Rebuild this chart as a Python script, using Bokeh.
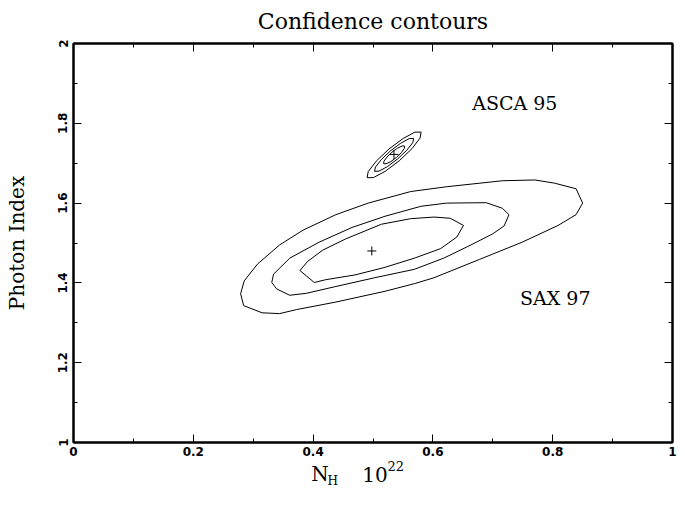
from bokeh.plotting import figure
from bokeh.models import Range1d, LinearAxis, FixedTicker, Label, CustomLabelingPolicy
from bokeh.layouts import column
from bokeh.core.properties import value
from bokeh.embed import file_html
from bokeh.resources import INLINE

# ---- data ----
x_ticks = [0, 0.2, 0.4, 0.6, 0.8, 1.0]
x_tick_labels = ["0", "0.2", "0.4", "0.6", "0.8", "1"]
x_minor = [0.1, 0.3, 0.5, 0.7, 0.9]
y_ticks = [1, 1.2, 1.4, 1.6, 1.8, 2]
y_tick_labels = ["1", "1.2", "1.4", "1.6", "1.8", "2"]
y_minor = [1.1, 1.3, 1.5, 1.7, 1.9]

# SAX 97 contours (N_H, Photon index)
sax_outer_x = [0.279, 0.285, 0.307, 0.344, 0.383, 0.438, 0.492, 0.563, 0.623, 0.716, 0.770,
               0.803, 0.839, 0.850, 0.839, 0.809, 0.749, 0.678, 0.602, 0.569, 0.520, 0.438,
               0.372, 0.344, 0.315, 0.284]
sax_outer_y = [1.373, 1.405, 1.447, 1.495, 1.532, 1.571, 1.600, 1.629, 1.641, 1.656, 1.658,
               1.650, 1.636, 1.600, 1.571, 1.544, 1.502, 1.459, 1.413, 1.398, 1.379, 1.352,
               1.333, 1.323, 1.325, 1.343]
sax_mid_x = [0.334, 0.361, 0.410, 0.465, 0.520, 0.580, 0.623, 0.689, 0.716, 0.727, 0.719,
             0.700, 0.662, 0.618, 0.569, 0.503, 0.438, 0.389, 0.361, 0.339, 0.331]
sax_mid_y = [1.422, 1.462, 1.502, 1.539, 1.567, 1.592, 1.600, 1.601, 1.587, 1.571, 1.543,
             1.523, 1.494, 1.462, 1.434, 1.413, 1.391, 1.374, 1.369, 1.385, 1.401]
sax_inner_x = [0.378, 0.391, 0.416, 0.454, 0.514, 0.563, 0.602, 0.629, 0.651, 0.640, 0.613,
               0.569, 0.520, 0.470, 0.421, 0.402]
sax_inner_y = [1.431, 1.454, 1.482, 1.510, 1.547, 1.561, 1.565, 1.562, 1.544, 1.515, 1.486,
               1.462, 1.439, 1.420, 1.408, 1.401]
sax_best = (0.498, 1.480)

# ASCA 95 contours
asca_outer_x = [0.5803, 0.5785, 0.5652, 0.5438, 0.5202, 0.5005, 0.4902, 0.4920, 0.5054, 0.5267, 0.5505, 0.5700]
asca_outer_y = [1.7779, 1.7629, 1.7367, 1.7061, 1.6794, 1.6638, 1.6638, 1.6789, 1.7051, 1.7357, 1.7621, 1.7779]
asca_mid_x = [0.5679, 0.5664, 0.5566, 0.5411, 0.5241, 0.5100, 0.5026, 0.5041, 0.5139, 0.5293, 0.5464, 0.5605]
asca_mid_y = [1.7621, 1.7515, 1.7328, 1.7107, 1.6915, 1.6801, 1.6796, 1.6903, 1.7090, 1.7311, 1.7502, 1.7617]
asca_inner_x = [0.5528, 0.5523, 0.5474, 0.5390, 0.5298, 0.5218, 0.5177, 0.5182, 0.5233, 0.5315, 0.5408, 0.5487]
asca_inner_y = [1.7430, 1.7369, 1.7265, 1.7143, 1.7041, 1.6985, 1.6988, 1.7048, 1.7153, 1.7274, 1.7376, 1.7432]
asca_best = (0.535, 1.722)

SERIF = "DejaVu Serif"
W = 677
LEFT = 73
RIGHT = 2

# ---- main figure ----
x_range = Range1d(0, 1)
p = figure(width=W, height=460, x_range=x_range, y_range=Range1d(1, 2),
           output_backend="svg", toolbar_location=None,
           x_axis_location=None, y_axis_location=None,
           min_border_left=LEFT, min_border_right=RIGHT, min_border_top=40, min_border_bottom=18)
p.grid.visible = False
p.background_fill_color = "white"
p.border_fill_color = "white"
p.outline_line_color = "black"
p.outline_line_width = 2

p.title.text = "Confidence contours"
p.title.align = "center"
p.title.text_font = SERIF
p.title.text_font_size = "22px"
p.title.text_font_style = "normal"
p.title.text_color = "black"
p.title.standoff = 12


def make_axis(ticks, minor, labels, show_labels):
    ax = LinearAxis(ticker=FixedTicker(ticks=ticks, minor_ticks=minor))
    ax.major_label_overrides = {t: l for t, l in zip(ticks, labels)}
    ax.major_tick_in = 8
    ax.major_tick_out = 0
    ax.minor_tick_in = 4
    ax.minor_tick_out = 0
    ax.axis_line_width = 2
    ax.axis_line_color = "black"
    ax.major_tick_line_color = "black"
    ax.minor_tick_line_color = "black"
    ax.major_tick_line_width = 1
    ax.minor_tick_line_width = 1
    ax.major_label_text_font = "DejaVu Sans"
    ax.major_label_text_font_style = "bold"
    ax.major_label_text_font_size = "12px"
    ax.major_label_text_color = "black"
    if not show_labels:
        ax.major_label_standoff = 0
        ax.major_label_text_font_size = "1px"
        ax.major_label_policy = CustomLabelingPolicy(code="return new Set()")
    return ax


bottom = make_axis(x_ticks, x_minor, x_tick_labels, True)
bottom.major_label_standoff = 4
p.add_layout(bottom, "below")

left = make_axis(y_ticks, y_minor, y_tick_labels, True)
left.major_label_orientation = "vertical"
left.major_label_standoff = 6
left.axis_label = "Photon Index"
left.axis_label_text_font = SERIF
left.axis_label_text_font_size = "20px"
left.axis_label_text_font_style = "normal"
left.axis_label_text_color = "black"
left.axis_label_standoff = 27
p.add_layout(left, "left")

p.add_layout(make_axis(x_ticks, x_minor, x_tick_labels, False), "above")
p.add_layout(make_axis(y_ticks, y_minor, y_tick_labels, False), "right")

# contours
for xs, ys in [(sax_outer_x, sax_outer_y), (sax_mid_x, sax_mid_y), (sax_inner_x, sax_inner_y),
               (asca_outer_x, asca_outer_y), (asca_mid_x, asca_mid_y), (asca_inner_x, asca_inner_y)]:
    p.line(xs + xs[:1], ys + ys[:1], line_color="black", line_width=1)

p.scatter([sax_best[0], asca_best[0]], [sax_best[1], asca_best[1]], marker="cross",
          size=9, line_color="black", line_width=1)

# annotations
p.add_layout(Label(x=0.6656, y=1.852, text="ASCA 95", text_font=SERIF, text_font_size="19px",
                   text_align="left", text_baseline="middle", text_color="black"))
p.add_layout(Label(x=0.7454, y=1.3617, text="SAX 97", text_font=SERIF, text_font_size="19px",
                   text_align="left", text_baseline="middle", text_color="black"))

# ---- strip below holding the x-axis label  N_H 10^22 ----
s = figure(width=W, height=29, x_range=x_range, y_range=Range1d(0, 1),
           output_backend="svg", toolbar_location=None,
           x_axis_location=None, y_axis_location=None,
           min_border_left=LEFT, min_border_right=RIGHT, min_border_top=0, min_border_bottom=0)
s.grid.visible = False
s.outline_line_color = None
s.background_fill_color = "white"
s.border_fill_color = "white"

label_parts = ["N", "H", "10", "22"]
label_x = [0.397, 0.424, 0.482, 0.524]
label_y = [0.52, 0.30, 0.52, 0.80]
label_sizes = ["20px", "12px", "20px", "13px"]
for t, lx, ly, fs in zip(label_parts, label_x, label_y, label_sizes):
    s.text(x=[lx], y=[ly], text=[t], text_font=value(SERIF), text_font_size=value(fs),
           text_align="left", text_baseline="middle", text_color="black")

layout = column(p, s, spacing=0)
open("out.html", "w").write(file_html(layout, INLINE))
